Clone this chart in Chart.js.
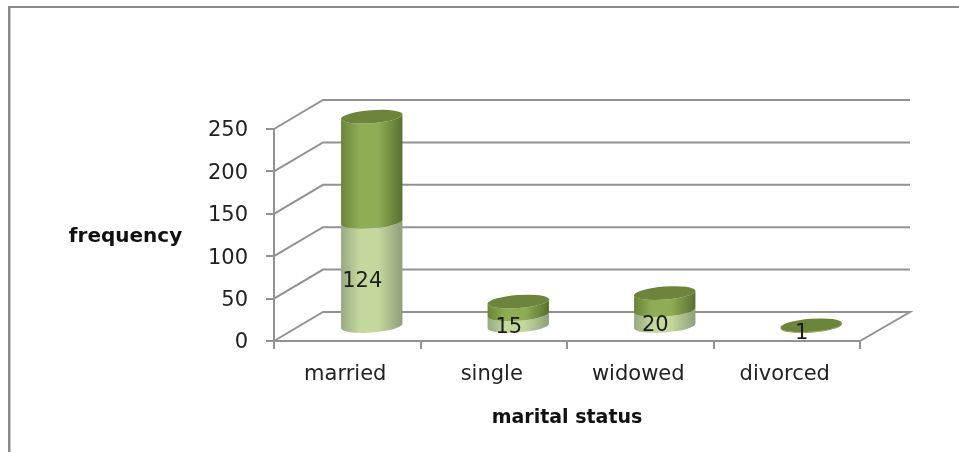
<!DOCTYPE html>
<html>
<head>
<meta charset="utf-8">
<style>html,body{margin:0;padding:0;background:#fff;overflow:hidden}canvas{display:block}</style>
<script src="https://cdn.jsdelivr.net/npm/chart.js@4/dist/chart.umd.min.js"></script>
</head>
<body>
<canvas id="c" width="959" height="453"></canvas>
<script>
const categories = ["married", "single", "widowed", "divorced"];
const lowerValues = [124, 15, 20, 1];
const upperValues = [124, 15, 20, 1];
const yTicks = [0, 50, 100, 150, 200, 250];
const xTitle = "marital status";
const yTitle = "frequency";

const GRAY = "#929292";
const DEPTH_X = 49, DEPTH_Y = 29;
const FONT = "'DejaVu Sans'";

function nudgeLabels(scale, ox, oy) {
  if (scale._nudged) return;
  scale._nudged = true;
  const original = scale._computeLabelItems;
  scale._computeLabelItems = function (area) {
    const items = original.call(this, area);
    items.forEach(it => { it.options.translation = [it.options.translation[0] + ox, it.options.translation[1] + oy]; });
    return items;
  };
}

function cylinderSegment(ctx, cx, yBottom, yTop, rx, ry, tilt, edge, mid, right) {
  const g = ctx.createLinearGradient(cx - rx, 0, cx + rx, 0);
  g.addColorStop(0, edge); g.addColorStop(0.3, mid); g.addColorStop(0.6, mid); g.addColorStop(1, right);
  ctx.beginPath();
  ctx.ellipse(cx, yBottom, rx, ry, tilt, Math.PI, 0, true);
  ctx.ellipse(cx, yTop, rx, ry, tilt, 0, Math.PI, false);
  ctx.closePath();
  ctx.fillStyle = g;
  ctx.fill();
}

const wallsAndCylinders = {
  id: "wallsAndCylinders",
  beforeDraw(chart) {
    const c = chart.ctx;
    c.save();
    c.fillStyle = "#8a8a8a";
    c.fillRect(8, 6, 2.5, 446);
    c.fillRect(8, 6, 951, 2);
    c.restore();
  },
  beforeDatasetsDraw(chart) {
    const c = chart.ctx, y = chart.scales.y, a = chart.chartArea;
    c.save();
    c.strokeStyle = GRAY; c.lineWidth = 2;
    yTicks.forEach(v => {
      const py = y.getPixelForValue(v);
      c.beginPath();
      c.moveTo(a.left, py);
      c.lineTo(a.left + DEPTH_X, py - DEPTH_Y);
      c.lineTo(a.right + DEPTH_X + 1, py - DEPTH_Y);
      if (v === 0) c.lineTo(a.right, py);
      c.stroke();
    });
    c.restore();
  },
  afterDatasetsDraw(chart) {
    const c = chart.ctx, y = chart.scales.y;
    const lower = chart.getDatasetMeta(0).data, upper = chart.getDatasetMeta(1).data;
    const dx = DEPTH_X / 2, dy = 14, ry = 6.5, tilt = -0.075;
    c.save();
    lower.forEach((bar, i) => {
      const cx = bar.x + dx, rx = bar.width / 2;
      const y0 = bar.base - dy, y1 = bar.y - dy, y2 = upper[i].y - dy;
      cylinderSegment(c, cx, y0, y1, rx, ry, tilt, "#98a882", "#c4d89e", "#8f9f78");
      cylinderSegment(c, cx, y1, y2, rx, ry, tilt, "#6a8438", "#8fad55", "#587030");
      c.beginPath();
      c.ellipse(cx, y2, rx, ry, tilt, 0, Math.PI * 2);
      c.fillStyle = "#6c853a";
      c.fill();
    });
    c.fillStyle = "#1c1c1c";
    c.font = "21px " + FONT;
    c.textAlign = "center"; c.textBaseline = "middle";
    lower.forEach((bar, i) => {
      const py = y.getPixelForValue(lowerValues[i] / 2) - 7;
      c.fillText(String(lowerValues[i]), bar.x + 15, py);
    });
    c.font = "bold 20px " + FONT;
    c.fillStyle = "#111";
    c.fillText(yTitle, 125.5, 237);
    c.restore();
  }
};

new Chart(document.getElementById("c"), {
  type: "bar",
  data: {
    labels: categories,
    datasets: [
      { label: "lower", data: lowerValues, backgroundColor: "rgba(0,0,0,0)", categoryPercentage: 1, barPercentage: 0.42 },
      { label: "upper", data: upperValues, backgroundColor: "rgba(0,0,0,0)", categoryPercentage: 1, barPercentage: 0.42 }
    ]
  },
  options: {
    responsive: false,
    animation: false,
    devicePixelRatio: 1,
    layout: { padding: { top: 129, right: 99, left: 0, bottom: 0 } },
    plugins: { legend: { display: false }, tooltip: { enabled: false }, title: { display: false } },
    scales: {
      x: {
        stacked: true,
        afterFit(s) { s.height = 112; nudgeLabels(s, -2, 0); },
        grid: { display: true, drawOnChartArea: false, offset: true, tickLength: 8, color: GRAY, lineWidth: 2 },
        border: { color: GRAY, width: 2 },
        ticks: { color: "#222", font: { family: FONT, size: 21 }, padding: 13, maxRotation: 0 },
        title: { display: true, text: xTitle, color: "#111", font: { family: FONT, size: 19, weight: "bold" }, padding: { top: 0, bottom: 24 } }
      },
      y: {
        stacked: true,
        min: 0, max: 250,
        afterFit(s) { s.width = 274; nudgeLabels(s, 0, 2); },
        afterBuildTicks(s) { s.ticks = yTicks.map(v => ({ value: v })); },
        grid: { drawOnChartArea: false, tickLength: 8, color: GRAY, lineWidth: 2 },
        border: { color: GRAY, width: 2 },
        ticks: { color: "#222", font: { family: FONT, size: 21 }, padding: 18 }
      }
    }
  },
  plugins: [wallsAndCylinders]
});
</script>
</body>
</html>
